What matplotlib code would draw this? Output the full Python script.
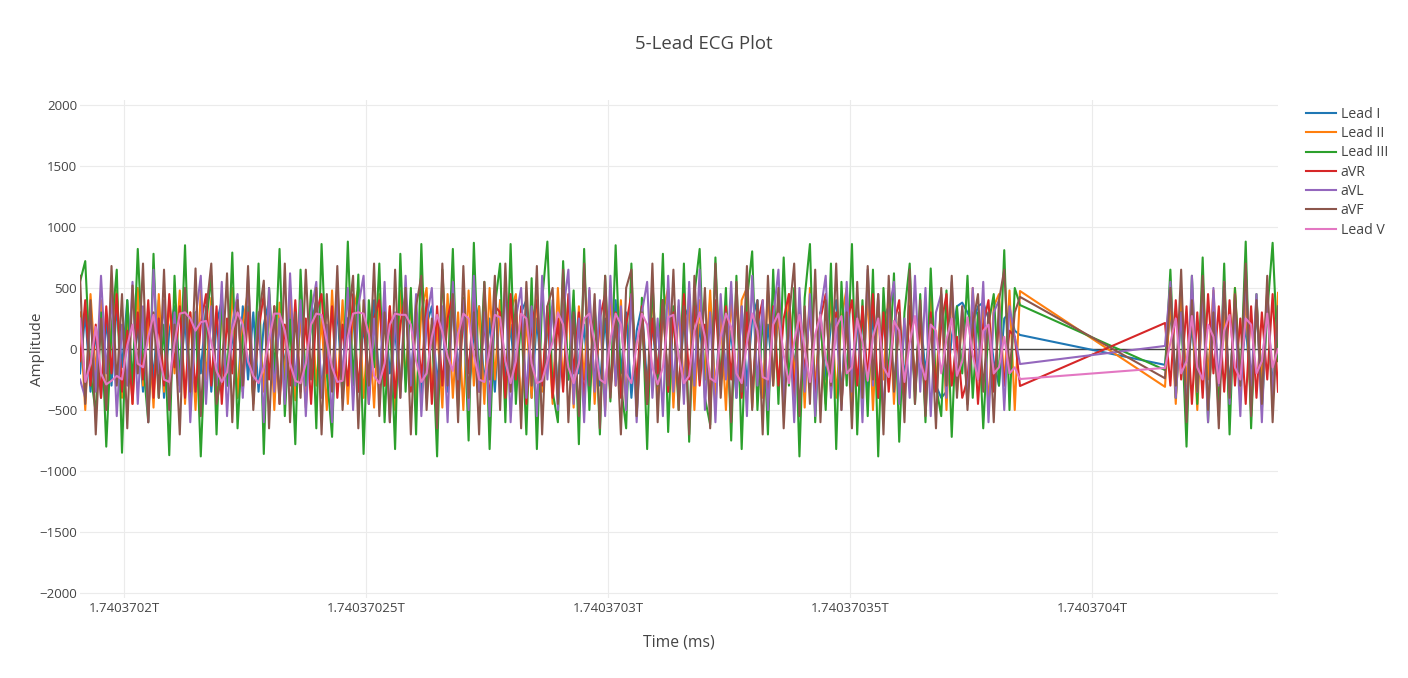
import numpy as np
import matplotlib
matplotlib.use("Agg")
import matplotlib.pyplot as plt
from matplotlib.ticker import FixedLocator, FuncFormatter

plt.rcParams["font.family"] = ["Open Sans", "DejaVu Sans"]

# ── Data ─────────────────────────────────────────────────────────────────────
# two recording blocks (epoch ms), samples spread evenly inside each block
seg_a_start, seg_a_end = 1740370190909, 1740370385124
seg_b_start, seg_b_end = 1740370415083, 1740370438430

leads = ["Lead I", "Lead II", "Lead III", "aVR", "aVL", "aVF", "Lead V"]
colors = ["#1f77b4", "#ff7f0e", "#2ca02c", "#d62728", "#9467bd", "#8c564b", "#e377c2"]

lead_i_a = [
    -200, 300, -350, 150, -400, 250, -300, 350, -150, 400, -300, 200, -350, 300, -250, 400, -400, 150, 350, -300,
    250, -400, 300, -200, 350, -350, 200, 400, -300, 150, -400, 350, -250, 300, -350, 200, 400, -300, 250, -150,
    350, -400, 300, -250, 200, 400, -350, 150, -300, 350, -400, 250, 300, -350, 200, -250, 400, -300, 350, -200,
    150, -350, 400, -250, 300, -400, 200, 350, -300, 250, -350, 400, -200, 300, -400, 150, 350, -300, 250, -350,
    400, -250, 200, -350, 300, 400, -400, 250, -300, 150, 350, -350, 300, -250, 400, -200, 200, -400, 350, -300,
    250, -350, 400, -200, 300, -400, 150, 350, -300, 200, -250, 400, -350, 300, -400, 250, 350, -300, 200, -250,
    400, -350, 300, -200, 150, -400, 350, -300, 250, 400, -350, 200, -250, 300, -400, 350, -150, 250, -300, 400,
    -350, 300, -250, 200, 400, -400, 350, -300, 150, 250, -350, 300, -400, 250, 350, -300, 200, -250, 400, -350,
    300, -200, 250, -300, -400, -350, 100, 350, 380, 300, 200, 350, 380, 250, -100, -300, 250, 300, 150, 115,
]
lead_i_b = [-130, 300, -250, 350, -300, 200, -350, 400, -200, 300, -400, 250, -300, 350, -250, 200, -350, 300, -200, 400, -300, 150]

lead_ii_a = [
    300, -500, 450, -200, 400, -480, 200, 480, -400, 300, -450, 500, -300, 250, -480, 450, -350, 400, -200, 480,
    -450, 300, -500, 480, -250, 420, -480, 350, -300, 500, -400, 200, 480, -450, 300, -350, 450, -500, 380, -250,
    500, -420, 300, -480, 450, -300, 250, -500, 480, -350, 400, -450, 300, 500, -400, 250, -480, 450, -300, 350,
    -500, 480, -250, 400, -450, 300, 500, -350, 200, -480, 450, -400, 300, -500, 480, -300, 350, -450, 500, -250,
    400, -480, 300, 450, -500, 250, -400, 480, -350, 300, -450, 500, -300, 400, -480, 350, -250, 480, -450, 300,
    -500, 450, -300, 400, -480, 500, -350, 250, -450, 480, -400, 300, 500, -480, 350, -300, 450, -500, 400, -250,
    480, -450, 300, -500, 450, -350, 400, 500, -480, 250, -400, 480, -300, 350, -500, 450, -250, 400, -480, 500,
    -350, 300, -450, 480, -400, 250, 500, -480, 350, -300, 450, -500, 400, -250, 480, -450, 300, -400, 500, -350,
    250, -480, 450, -300, 400, -500, 480, -350, 300, -450, 500, -250, 400, -480, 350, 450, -300, 480, -500, 475,
]
lead_ii_b = [-310, 400, -450, 480, -300, 350, -500, 450, -250, 480, -400, 300, -480, 500, -350, 450, -500, 400, -300, 480, -450, 460]

lead_iii_a = [
    550, 720, -200, -520, 300, -800, 150, 650, -850, 400, -300, 820, -100, -600, 780, -400, 200, -870, 600, -300,
    850, -500, 300, -880, 200, 600, -700, 450, -300, 790, -650, 100, 350, -420, 700, -860, 500, -200, 820, -550,
    240, -780, 650, -300, 480, -650, 860, -200, -720, 540, -400, 880, -300, 610, -860, 400, -150, 700, -600, 300,
    -820, 780, -350, 500, -700, 860, -400, 200, -880, 650, -250, 820, -500, 420, -750, 870, -300, 550, -820, 350,
    700, -600, 860, -450, 300, -700, 580, -820, 400, 880, -350, -600, 720, -250, 480, -780, 820, -500, 350, -700,
    600, -430, 850, -300, -650, 700, -550, 420, -820, 560, -300, 780, -680, 350, -500, 700, -760, 450, 820, -400,
    -620, 750, -300, 500, -750, 600, -820, 400, 800, -500, 300, -700, 650, -450, 750, -300, 500, -880, 420, 860,
    -600, 300, -500, 700, -820, 550, -300, 860, -700, 400, -550, 650, -880, 500, -250, 620, -760, 300, 700, -450,
    450, -600, 660, -300, -550, 480, -720, 350, -200, 600, -400, 300, -650, 200, 450, -300, 810, -500, 500, 360,
]
lead_iii_b = [-172, 650, -400, 300, -800, 600, -450, 750, -600, 400, -550, 700, -700, 500, -300, 880, -650, 450, -500, 300, 870, -100]

avr_a = [
    -100, 400, -300, 200, -400, 350, -200, 450, -350, 150, -450, 300, -250, 400, -400, 250, -300, 450, -150, 350,
    -400, 300, -350, 200, 450, -300, 350, -450, 250, -200, 400, -350, 300, -400, 150, 450, -250, 350, -450, 200,
    -300, 400, -350, 250, -450, 300, 450, -200, 350, -400, 200, -300, 450, -350, 300, -450, 250, 400, -300, 350,
    -400, 200, 450, -350, 300, -250, 400, -450, 350, -300, 250, 450, -400, 300, -200, 400, -350, 250, -450, 350,
    300, -400, 450, -250, 350, -450, 200, 400, -300, 350, -400, 250, -350, 450, -200, 300, -450, 400, -300, 250,
    450, -350, 300, -400, 200, 450, -300, 350, -450, 250, -200, 400, -350, 300, -400, 450, -250, 350, -300, 200,
    -450, 400, -300, 350, -250, 450, -400, 300, -350, 200, 400, -450, 350, -300, 250, 450, -400, 300, -200, 350,
    -400, 250, 450, -350, 300, -450, 200, 400, -300, 350, -250, 450, -400, 300, -350, 200, 400, -450, 350, -300,
    250, -400, 300, -350, 200, 450, -300, 100, -400, -250, 300, -450, 200, 400, -350, 250, -300, 150, 100, -303,
]
avr_b = [213, -300, 400, -250, 350, -450, 300, -400, 450, -200, 350, -350, 400, -300, 250, -450, 350, -400, 300, -250, 450, -350]

avl_a = [
    -250, -400, 300, -350, 600, -200, 450, -550, 200, -300, 550, -450, 350, -600, 650, -200, 400, -500, 300, -350,
    500, -600, 250, 600, -450, 350, -300, 550, -550, 200, 450, -400, 600, -250, 300, -600, 500, -350, 250, -450,
    620, -300, 400, -550, 300, 550, -400, 200, -600, 450, -250, 500, -500, 350, 600, -450, 250, -350, 550, -600,
    300, -400, 600, -300, 450, -550, 250, 500, -450, 350, -600, 550, -250, 400, -500, 600, -350, 300, -550, 450,
    -300, 550, -600, 250, 500, -400, 350, -550, 600, -250, 400, -500, 300, 650, -450, 250, -600, 500, -350, 400,
    -550, 600, -300, 350, -500, 450, -600, 300, 550, -400, 250, -550, 600, -350, 400, -450, 550, -300, 650, -500,
    300, -600, 450, -250, 550, -400, 350, -550, 600, -300, 400, -500, 250, 650, -450, 300, -600, 500, -350, 450,
    -550, 300, 600, -400, 250, -500, 550, -350, 400, -600, 650, -300, 450, -550, 300, 550, -450, 250, -400, 600,
    -350, 500, -550, 300, 450, -400, 550, -300, 350, -450, 500, -250, 550, -600, 300, 400, -500, 350, 100, -123,
]
avl_b = [25, 550, -400, 300, -500, 600, -350, 450, -600, 500, -300, 550, -450, 350, -550, 600, -300, 450, -600, 500, -400, 300]

avf_a = [
    600, -450, 400, -700, 250, -500, 680, -300, 450, -650, 520, -200, 700, -600, 300, -400, 650, -500, 200, -700,
    500, -350, 660, -550, 300, 700, -450, -200, 620, -600, 400, -300, 680, -500, 250, 560, -650, 350, -450, 700,
    -600, 300, -400, 650, -250, 500, -700, 450, -350, 680, -500, 200, 600, -650, 400, -300, 700, -550, 300, -600,
    650, -400, 500, -700, 350, 600, -500, 250, -650, 700, -300, 450, -600, 680, -400, 300, -700, 550, -250, 600,
    -500, 700, -350, 400, -650, 550, -300, 680, -700, 350, 500, -450, 650, -600, 300, -550, 700, -300, 450, -650,
    600, -400, 250, -700, 500, 650, -550, 300, -450, 700, -600, 400, -300, 650, -500, 350, -700, 600, -250, 500,
    -650, 700, -400, 300, -600, 550, -350, 680, -500, 400, -700, 600, -300, 500, -650, 250, 700, -550, 350, -450,
    650, -600, 400, -300, 700, -500, 300, -650, 550, -400, 680, -250, 450, -700, 600, -350, 300, -600, 650, -450,
    400, -550, 250, -650, 500, -300, 600, -400, 350, -500, 200, 450, -350, 300, -600, 400, 650, -200, 300, 427,
]
avf_b = [-240, 500, -300, 650, -600, 400, -350, 600, -500, 300, -650, 550, -400, 450, -300, 700, -550, 400, -450, 600, -600, 350]

lead_v_a = [
    250, -270, -120, 180, -200, -290, -260, -220, -250, 30, 200, -120, -150, 100, 280, -30, -250, -270, 50, 290,
    300, 250, 150, 220, 230, 60, -180, -270, -190, 150, 300, 200, -100, -220, -280, -150, 80, 290, 290, 150,
    -120, -260, -280, -120, 200, 290, 280, 60, -150, -270, -260, 100, 290, 300, 290, 120, -220, -280, -120, 200,
    290, 280, 280, 200, -100, -270, -200, 100, 280, 140, -60, -180, 120, 290, 250, -50, -250, -270, 0, 280,
    260, -100, -280, -100, 290, 250, -120, -280, -260, -100, 60, 300, 200, -150, -280, -120, 250, 290, 50, -250,
    -280, 80, 290, 200, -200, -280, 40, 290, 200, -150, -290, -150, 260, 280, -60, -280, -220, 150, 300, 100,
    -240, -270, 100, 290, 180, -200, -280, 50, 290, 150, -230, -250, 200, 290, -50, -280, 60, 280, 0, -270,
    120, 280, -80, -270, 180, 270, -200, -150, 250, 60, -260, 100, 250, -150, -230, 230, 150, -270, 50, 270,
    -100, -250, 200, 150, -200, 80, 250, -220, -100, 260, -50, -250, 150, 200, -200, -150, 100, -200, -150, -246,
]
lead_v_b = [-155, 50, 250, -200, -100, 270, -150, -250, 200, 100, -280, 150, 280, -150, -250, 250, 200, -200, -100, 290, -150, 0]

series_a = [lead_i_a, lead_ii_a, lead_iii_a, avr_a, avl_a, avf_a, lead_v_a]
series_b = [lead_i_b, lead_ii_b, lead_iii_b, avr_b, avl_b, avf_b, lead_v_b]

x_ticks = [1740370200000, 1740370250000, 1740370300000, 1740370350000, 1740370400000]
y_ticks = [-2000, -1500, -1000, -500, 0, 500, 1000, 1500, 2000]

# ── Figure ───────────────────────────────────────────────────────────────────
W, H = 1408, 678
fig = plt.figure(figsize=(W / 100, H / 100), dpi=100)
fig.patch.set_facecolor("white")
ax = fig.add_axes([80 / W, 1 - 598 / H, 1198 / W, 498 / H])

ax.axhline(0, color="#444444", lw=1.0, zorder=1)

for name, col, va, vb in zip(leads, colors, series_a, series_b):
    t = np.concatenate([np.linspace(seg_a_start, seg_a_end, len(va)),
                        np.linspace(seg_b_start, seg_b_end, len(vb))])
    v = np.concatenate([va, vb])
    ax.plot(t, v, color=col, lw=1.5, label=name, zorder=2,
            solid_joinstyle="round")

ax.set_xlim(seg_a_start, seg_b_end)
ax.set_ylim(-2040, 2040)

ax.xaxis.set_major_locator(FixedLocator(x_ticks))
ax.xaxis.set_major_formatter(FuncFormatter(lambda v, p: f"{v / 1e12:.9g}T"))
ax.yaxis.set_major_locator(FixedLocator(y_ticks))
ax.yaxis.set_major_formatter(FuncFormatter(lambda v, p: f"{int(v)}".replace("-", "\u2212")))

ax.grid(True, color="#ebebeb", lw=0.8, zorder=0)
ax.set_axisbelow(True)
for s in ax.spines.values():
    s.set_visible(False)
ax.tick_params(axis="both", length=0, labelsize=9.5, colors="#444444")
ax.tick_params(axis="x", pad=3)
ax.tick_params(axis="y", pad=2)

ax.set_xlabel("Time (ms)", fontsize=11.3, color="#444444", labelpad=14)
ax.set_ylabel("Amplitude", fontsize=11, color="#444444")
ax.yaxis.set_label_coords(-0.029, 0.5)

fig.text(704 / W, 1 - 44 / H, "5-Lead ECG Plot", ha="center", va="center",
         fontsize=13.4, color="#444444")

fig.legend(loc="upper left", bbox_to_anchor=(1306 / W, 1 - 107 / H),
           frameon=False, fontsize=10.2, handlelength=2.1, handletextpad=0.35,
           labelspacing=0.3, borderpad=0, borderaxespad=0,
           labelcolor="#444444")

fig.savefig("out.png", dpi=100, facecolor="white")
plt.close(fig)
